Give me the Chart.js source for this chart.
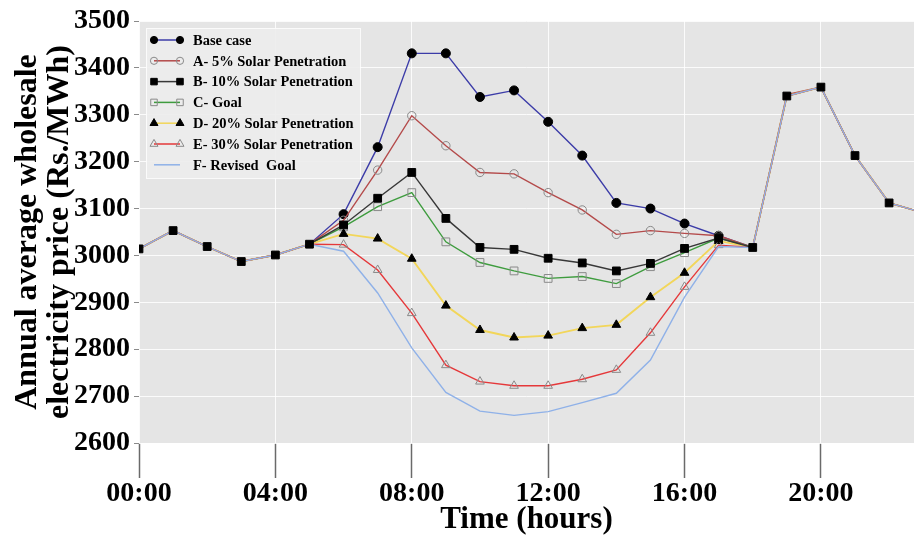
<!DOCTYPE html>
<html>
<head>
<meta charset="utf-8">
<script src="https://cdn.jsdelivr.net/npm/chart.js@4.4.0/dist/chart.umd.min.js"></script>
<style>
  html, body { margin: 0; padding: 0; background: #fff; overflow: hidden; }
  canvas { display: block; }
</style>
</head>
<body>
<canvas id="priceChart" width="914" height="539"></canvas>
<script>
// hours of the day (x axis)
const hours = [0, 1, 2, 3, 4, 5, 6, 7, 8, 9, 10, 11, 12, 13, 14, 15, 16, 17, 18, 19, 20, 21, 22, 23];

// Rs./MWh
const baseCase    = [3014, 3053, 3019, 2987, 3001, 3024, 3088, 3231, 3431, 3431, 3338, 3352, 3285, 3213, 3112, 3100, 3068, 3042, 3017, 3340, 3359, 3213, 3112, 3091];
const solar5      = [3014, 3053, 3019, 2987, 3001, 3024, 3075, 3182, 3298, 3234, 3177, 3174, 3134, 3097, 3045, 3053, 3047, 3042, 3017, 3343, 3359, 3213, 3112, 3091];
const solar10     = [3014, 3053, 3019, 2987, 3001, 3024, 3065, 3122, 3177, 3079, 3017, 3013, 2994, 2984, 2967, 2983, 3015, 3037, 3017, 3340, 3359, 3213, 3112, 3091];
const goal        = [3014, 3053, 3019, 2987, 3001, 3024, 3061, 3104, 3134, 3029, 2985, 2967, 2951, 2955, 2940, 2976, 3006, 3037, 3017, 3340, 3359, 3213, 3112, 3091];
const solar20     = [3014, 3053, 3019, 2987, 3001, 3024, 3046, 3036, 2993, 2893, 2841, 2825, 2829, 2845, 2852, 2911, 2963, 3031, 3017, 3340, 3359, 3213, 3112, 3091];
const solar30     = [3014, 3053, 3019, 2987, 3001, 3024, 3023, 2969, 2877, 2766, 2731, 2722, 2722, 2736, 2756, 2835, 2933, 3022, 3017, 3340, 3359, 3213, 3112, 3091];
const revisedGoal = [3014, 3053, 3019, 2987, 3001, 3024, 3009, 2920, 2803, 2708, 2668, 2659, 2667, 2686, 2706, 2777, 2911, 3019, 3017, 3340, 3359, 3213, 3112, 3091];

const seriesLabels = [
  "Base case",
  "A- 5% Solar Penetration",
  "B- 10% Solar Penetration",
  "C- Goal",
  "D- 20% Solar Penetration",
  "E- 30% Solar Penetration",
  "F- Revised  Goal",
];

const yTicks = { min: 2600, max: 3500, step: 100 };
const xTicks = { min: 0, max: 22.73, step: 4 };

const serif = '"Liberation Serif", "Times New Roman", serif';

// all scenarios are identical outside 05:00-18:00, only the B squares are shown there
const isShared = (i) => i <= 5 || i >= 18;
const sharedRadius = (r) => (ctx) => (isShared(ctx.dataIndex) ? 0 : r);

function makeSet(label, data, color, style, radius, filled, order, width) {
  return {
    label: label,
    data: data,
    borderColor: color,
    borderWidth: width || 1.4,
    pointStyle: style,
    pointRadius: sharedRadius(radius),
    pointHoverRadius: sharedRadius(radius),
    pointBackgroundColor: filled ? "#000" : "rgba(0,0,0,0)",
    pointBorderColor: filled ? "#000" : "#8a8a8a",
    pointBorderWidth: 1,
    tension: 0,
    order: order,
  };
}

const datasets = [
  makeSet(seriesLabels[0], baseCase, "#3c3ca8", "circle", 4.5, true, 6),
  makeSet(seriesLabels[1], solar5, "#b44a4a", "circle", 4.2, false, 5),
  makeSet(seriesLabels[2], solar10, "#383838", "rect", 6, true, 0),
  makeSet(seriesLabels[3], goal, "#3e9c3e", "rect", 5.5, false, 4),
  makeSet(seriesLabels[4], solar20, "#f2d65a", "triangle", 5, true, 3, 1.9),
  makeSet(seriesLabels[5], solar30, "#e5383a", "triangle", 5, false, 2),
  makeSet(seriesLabels[6], revisedGoal, "#8fb1e8", false, 0, false, 1),
];
// B is drawn on top for its markers, but its line is hidden where every series coincides
datasets[2].pointRadius = 5.5;
datasets[2].segment = {
  borderColor: (ctx) => (ctx.p1DataIndex <= 5 || ctx.p0DataIndex >= 18 ? "rgba(0,0,0,0)" : "#383838"),
};

function drawMarker(ctx, style, x, y, r) {
  ctx.beginPath();
  if (style === "circle") {
    ctx.arc(x, y, r, 0, Math.PI * 2);
  } else if (style === "rect") {
    const s = r * Math.SQRT1_2;
    ctx.rect(x - s, y - s, 2 * s, 2 * s);
  } else if (style === "triangle") {
    for (let k = 0; k < 3; k++) {
      const a = (k * 2 * Math.PI) / 3;
      const px = x + Math.sin(a) * r;
      const py = y - Math.cos(a) * r;
      if (k === 0) ctx.moveTo(px, py);
      else ctx.lineTo(px, py);
    }
    ctx.closePath();
  }
  ctx.fill();
  ctx.stroke();
}

const plotBackground = {
  id: "plotBackground",
  beforeDraw(chart) {
    const { ctx, chartArea: a } = chart;
    ctx.save();
    ctx.fillStyle = "#e5e5e5";
    ctx.fillRect(a.left, a.top, a.right - a.left, a.bottom - a.top);
    ctx.restore();
  },
};

// legend with a short line and a marker at each end, like the original
const lineLegend = {
  id: "lineLegend",
  afterDraw(chart) {
    const ctx = chart.ctx;
    const a = chart.chartArea;
    const x0 = a.left + 7;
    const y0 = a.top + 7;
    ctx.save();
    ctx.fillStyle = "rgba(236,236,236,0.9)";
    ctx.strokeStyle = "rgba(255,255,255,0.8)";
    ctx.lineWidth = 1;
    ctx.fillRect(x0, y0, 214, 150);
    ctx.strokeRect(x0 + 0.5, y0 + 0.5, 214, 150);
    ctx.font = "bold 14.5px " + serif;
    ctx.textBaseline = "middle";
    chart.data.datasets.forEach((ds, i) => {
      const y = y0 + 12 + i * 20.8;
      ctx.strokeStyle = ds.borderColor;
      ctx.lineWidth = 1.5;
      ctx.beginPath();
      ctx.moveTo(x0 + 8, y);
      ctx.lineTo(x0 + 34, y);
      ctx.stroke();
      if (ds.pointStyle) {
        ctx.fillStyle = ds.pointBackgroundColor;
        ctx.strokeStyle = ds.pointBorderColor;
        ctx.lineWidth = 1;
        const r = ds.pointStyle === "circle" ? 3.6 : 4.6;
        drawMarker(ctx, ds.pointStyle, x0 + 8, y, r);
        drawMarker(ctx, ds.pointStyle, x0 + 34, y, r);
      }
      ctx.fillStyle = "#000";
      ctx.fillText(ds.label, x0 + 47, y + 1);
    });
    ctx.restore();
  },
};

new Chart(document.getElementById("priceChart"), {
  type: "line",
  data: { labels: hours, datasets: datasets },
  plugins: [plotBackground, lineLegend],
  options: {
    responsive: false,
    animation: false,
    layout: { autoPadding: false, padding: { top: 21, right: 0, bottom: 0, left: 0 } },
    plugins: {
      legend: { display: false },
      tooltip: { enabled: false },
    },
    scales: {
      x: {
        type: "linear",
        min: xTicks.min,
        max: xTicks.max,
        afterFit(scale) {
          scale.height = 96;
          scale.paddingRight = 0;
        },
        border: { display: false },
        grid: {
          color: "rgba(255,255,255,0.85)",
          lineWidth: 1,
          tickColor: "#6a6a6a",
          tickLength: 35,
          tickWidth: 1.5,
        },
        ticks: {
          stepSize: xTicks.step,
          includeBounds: false,
          padding: -1,
          color: "#000",
          maxRotation: 0,
          font: { family: serif, size: 28, weight: "bold" },
          callback: (v) => String(v).padStart(2, "0") + ":00",
        },
        title: {
          display: true,
          text: "Time (hours)",
          color: "#000",
          padding: { top: 0, bottom: 0 },
          font: { family: serif, size: 31, weight: "bold", lineHeight: 1.2 },
        },
      },
      y: {
        min: yTicks.min,
        max: yTicks.max,
        afterFit(scale) {
          scale.width = 139;
        },
        border: { display: false },
        grid: {
          color: "rgba(255,255,255,0.85)",
          lineWidth: 1,
          tickColor: "#8a8a8a",
          tickLength: 5,
        },
        ticks: {
          stepSize: yTicks.step,
          padding: 4,
          color: "#000",
          font: { family: serif, size: 28, weight: "bold" },
          callback: (v) => String(v),
        },
        title: {
          display: true,
          text: ["Annual average wholesale", "electricity price (Rs./MWh)"],
          color: "#000",
          padding: { top: 12, bottom: 0 },
          font: { family: serif, size: 32, weight: "bold", lineHeight: 1.0 },
        },
      },
    },
  },
});
</script>
</body>
</html>
